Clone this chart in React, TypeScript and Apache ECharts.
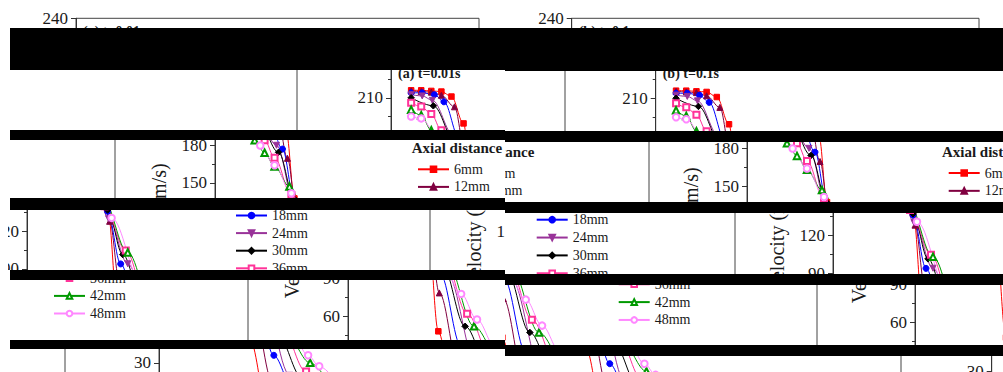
import React, { useEffect, useRef } from "react";
import * as echarts from "echarts";

// ---------------- data ----------------
// radial position (x) and velocity (m/s) of every marked point, per axial distance
const seriesNames = ["6mm", "12mm", "18mm", "24mm", "30mm", "36mm", "42mm", "48mm"];
const r6mm = [2, 3, 4, 5, 6, 7.2, 8, 9.1, 10.2];
const v6mm = [216, 216, 215.5, 215, 211, 189.5, 137.5, 48, 5];
const r12mm = [2, 3, 4, 5, 6.3, 7.3, 8.2, 9.2, 11.3, 12.5];
const v12mm = [215.5, 215, 214.5, 212, 202.8, 169.6, 128, 78.7, 14, 4];
const r18mm = [2, 3.1, 4.3, 5.25, 6.8, 8, 9.3, 11.4, 13];
const v18mm = [214, 214, 212.5, 206.8, 177, 136, 93.9, 36, 6];
const r24mm = [2, 3.1, 4.1, 6.2, 8.1, 10, 13, 15];
const v24mm = [212.5, 211.5, 208, 180, 130, 94, 20, 5];
const r30mm = [2, 4.2, 6.4, 8, 9.5, 11.8, 14.2, 16];
const v30mm = [210, 203.6, 174.4, 137, 101.4, 52, 18, 6];
const r36mm = [2, 3, 4, 5, 6, 7.7, 9.8, 12, 14.6, 16.5];
const v36mm = [206, 203, 197, 184, 170, 140, 104.6, 62, 23, 8];
const r42mm = [2, 3, 4, 5, 6, 7.5, 10, 12.7, 15, 17];
const v42mm = [200.5, 196, 184, 174, 163, 147, 103, 52, 30, 12];
const r48mm = [2, 3, 4.56, 6, 7.7, 8.4, 11.4, 13, 14.8, 15.9, 18];
const v48mm = [195, 193.5, 179.8, 164, 141.6, 130.7, 77.9, 57.4, 36, 27.2, 10];
const allR = [r6mm, r12mm, r18mm, r24mm, r30mm, r36mm, r42mm, r48mm];
const allV = [v6mm, v12mm, v18mm, v24mm, v30mm, v36mm, v42mm, v48mm];
const yTickLabels = [0, 30, 60, 90, 120, 150, 180, 210, 240];
const xRange = [0, 40];

// ---------------- styles ----------------
const FONT = '"Liberation Serif", "Times New Roman", serif';
const colors = ["#ff0000", "#800040", "#0000ff", "#993399", "#000000", "#ff3399", "#009900", "#ff88ff"];
const symbols = ["rect", "triangle", "circle", "triangle", "diamond", "emptyRect", "emptyTriangle", "emptyCircle"];
const rotates = [0, 0, 0, 180, 0, 0, 0, 0];
const symSizes = [5.5, 6, 6, 6, 6.5, 6, 6.5, 6.5];
const NAME_GAP = 46;
const LEGEND_ROW = 14;

type Panel = {
  title: string;
  gridLeft: number;
  gridTop: number;
  gridWidth: number;
  gridHeight: number;
  legendLeft: number;
  legendTop: number;
  legendGap: number;
  headX: number;
  headY: number;
  width: number;
  height: number;
};
type Rect = { x0: number; x1: number; y0: number; y1: number };

function hits(a: Rect, x0: number, x1: number, y0: number, y1: number) {
  return x1 > a.x0 && x0 < a.x1 && y1 > a.y0 && y0 < a.y1;
}

function buildOption(p: Panel, vis: Rect) {
  const ymax = yTickLabels[yTickLabels.length - 1];
  const labelY = (v: number) => p.gridTop + ((ymax - v) / ymax) * p.gridHeight;
  const midY = p.gridTop + p.gridHeight / 2;
  const nameShown = hits(vis, p.gridLeft - NAME_GAP - 22, p.gridLeft - NAME_GAP + 2, midY - 64, midY + 64);
  const titleShown = hits(vis, p.gridLeft + 6, p.gridLeft + 72, 23, 40);
  const headShown = hits(vis, p.headX - 1, p.headX + 100, p.headY - 9, p.headY + 9);
  const step = LEGEND_ROW + p.legendGap;
  const visIdx: number[] = [];
  seriesNames.forEach((_, i) => {
    const cy = p.legendTop + LEGEND_ROW / 2 + i * step;
    if (hits(vis, p.legendLeft, p.legendLeft + 75, cy - 8, cy + 8)) visIdx.push(i);
  });
  const i0 = visIdx.length ? visIdx[0] : 0;
  const legendData = visIdx.length ? seriesNames.slice(i0, visIdx[visIdx.length - 1] + 1) : [];

  const series = seriesNames.map((name, i) => ({
    name,
    type: "line",
    smooth: 0.35,
    smoothMonotone: "x",
    data: allV[i].map((v, k) => [allR[i][k], v]),
    symbol: symbols[i],
    symbolSize: symSizes[i],
    symbolRotate: rotates[i],
    lineStyle: { color: colors[i], width: 1 },
    itemStyle: { color: colors[i], borderColor: colors[i], borderWidth: 1 },
    clip: true,
  }));

  const graphic: any[] = [];
  if (titleShown)
    graphic.push({
      type: "text",
      left: p.gridLeft + 7,
      top: 24.5,
      style: {
        text: p.title,
        fontSize: 14,
        fontWeight: "bold",
        fontFamily: FONT,
        fill: "#1a1a1a",
      },
    });
  if (headShown)
    graphic.push({
      type: "text",
      left: p.headX,
      top: p.headY - 8,
      style: {
        text: "Axial distance",
        fontSize: 15,
        fontWeight: "bold",
        fontFamily: FONT,
        fill: "#1a1a1a",
      },
    });

  return {
    animation: false,
    grid: {
      left: p.gridLeft,
      top: p.gridTop,
      width: p.gridWidth,
      height: p.gridHeight,
      show: true,
      borderColor: "#444",
      borderWidth: 1,
    },
    xAxis: {
      type: "value",
      min: xRange[0],
      max: xRange[1],
      axisLine: { show: true, lineStyle: { color: "#333" } },
      axisTick: { show: false },
      axisLabel: { show: false },
      splitLine: { show: false },
    },
    yAxis: {
      type: "value",
      min: yTickLabels[0],
      max: ymax,
      interval: yTickLabels[1] - yTickLabels[0],
      axisLine: { show: true, lineStyle: { color: "#333", width: 1 } },
      axisTick: { show: true, inside: false, length: 5, lineStyle: { color: "#333" } },
      minorTick: { show: true, splitNumber: 2, length: 3, lineStyle: { color: "#333" } },
      axisLabel: {
        fontFamily: FONT,
        fontSize: 17,
        color: "#1a1a1a",
        margin: 8,
        formatter: (v: number) => {
          const cy = labelY(v);
          return hits(vis, p.gridLeft - 38, p.gridLeft - 7, cy - 9, cy + 9) ? String(v) : "";
        },
      },
      splitLine: { show: false },
      name: nameShown ? "Velocity (m/s)" : "",
      nameLocation: "middle",
      nameGap: NAME_GAP,
      nameTextStyle: { fontFamily: FONT, fontSize: 20, color: "#1a1a1a" },
    },
    legend: {
      show: legendData.length > 0,
      orient: "vertical",
      left: p.legendLeft,
      top: p.legendTop + i0 * step,
      itemWidth: 31,
      itemHeight: 7,
      itemGap: p.legendGap,
      padding: 0,
      data: legendData,
      textStyle: { fontFamily: FONT, fontSize: 14, color: "#1a1a1a", lineHeight: LEGEND_ROW },
    },
    graphic,
    series,
  };
}

// ---------------- mosaic layout ----------------
type Band = { top: number; bottom: number; roll: number };
type Column = { x: number; w: number; panel: Panel; bands: Band[]; bars: [number, number][]; barX0: number; barX1: number };

const CH = 340;

const leftPanel: Panel = {
  title: "(a) t=0.01s",
  gridLeft: 68,
  gridTop: 18.3,
  gridWidth: 403,
  gridHeight: 300,
  legendLeft: 276,
  legendTop: 110.3,
  legendGap: 3.6,
  headX: 270.7,
  headY: 96.3,
  width: 497,
  height: CH,
};
const rightPanel: Panel = {
  title: "(b) t=0.1s",
  gridLeft: 66.7,
  gridTop: 18.3,
  gridWidth: 407.3,
  gridHeight: 304,
  legendLeft: 274.7,
  legendTop: 112,
  legendGap: 3.85,
  headX: 268.9,
  headY: 98,
  width: 498,
  height: CH,
};

const columns: Column[] = [
  {
    x: 8,
    w: 497,
    panel: leftPanel,
    barX0: 10,
    barX1: 505,
    bands: [
      { top: 0, bottom: 28.3, roll: 0 },
      { top: 70, bottom: 129.7, roll: 315 },
      { top: 139.7, bottom: 198.3, roll: 133 },
      { top: 210, bottom: 270, roll: -49 },
      { top: 280, bottom: 340, roll: 266 },
      { top: 349, bottom: 372, roll: 83 },
    ],
    bars: [
      [28.3, 70],
      [129.7, 139.7],
      [198.3, 210],
      [270, 280],
      [340, 349],
    ],
  },
  {
    x: 505,
    w: 498,
    panel: rightPanel,
    barX0: 505,
    barX1: 1003,
    bands: [
      { top: 0, bottom: 28.3, roll: 0 },
      { top: 70.7, bottom: 130.7, roll: 84.3 },
      { top: 142, bottom: 202, roll: 167.8 },
      { top: 213.3, bottom: 274, roll: 253.6 },
      { top: 285, bottom: 345.3, roll: 335.6 },
      { top: 356.3, bottom: 372, roll: 420 },
    ],
    bars: [
      [28.3, 70.7],
      [130.7, 142],
      [202, 213.3],
      [274, 285],
      [345.3, 356.3],
    ],
  },
];

function ChartCopy({ panel, left, top, vis }: { panel: Panel; left: number; top: number; vis: Rect }) {
  const ref = useRef<HTMLDivElement>(null);
  useEffect(() => {
    if (!ref.current) return;
    const chart = echarts.init(ref.current, undefined, {
      renderer: "svg",
      width: panel.width,
      height: panel.height,
    });
    chart.setOption(buildOption(panel, vis) as any);
    return () => chart.dispose();
  }, [panel, vis.x0, vis.x1, vis.y0, vis.y1]);
  return (
    <div
      ref={ref}
      style={{ position: "absolute", left, top, width: panel.width, height: panel.height }}
    />
  );
}

export default function App() {
  return (
    <div
      style={{
        position: "fixed",
        left: 0,
        top: 0,
        width: 1003,
        height: 372,
        background: "#fff",
        overflow: "hidden",
      }}
    >
      {columns.map((col, ci) => {
        let origStart = 0;
        return (
          <React.Fragment key={ci}>
            {col.bands.map((b, bi) => {
              const start = origStart;
              const h = b.bottom - b.top;
              origStart += h;
              const r0 = ((b.roll % col.w) + col.w) % col.w;
              const offs = r0 === 0 ? [0] : [r0, r0 - col.w];
              return (
                <div
                  key={bi}
                  style={{
                    position: "absolute",
                    left: col.x,
                    top: b.top,
                    width: col.w,
                    height: h,
                    overflow: "hidden",
                  }}
                >
                  {offs.map((o, k) => {
                    const vis: Rect = {
                      x0: Math.max(0, -o),
                      x1: Math.min(col.w, col.w - o),
                      y0: start,
                      y1: start + h,
                    };
                    return <ChartCopy key={k} panel={col.panel} left={o} top={-start} vis={vis} />;
                  })}
                </div>
              );
            })}
            {col.bars.map((bar, k) => (
              <div
                key={"bar" + k}
                style={{
                  position: "absolute",
                  left: col.barX0,
                  top: bar[0],
                  width: col.barX1 - col.barX0,
                  height: bar[1] - bar[0],
                  background: "#000",
                }}
              />
            ))}
          </React.Fragment>
        );
      })}
    </div>
  );
}
